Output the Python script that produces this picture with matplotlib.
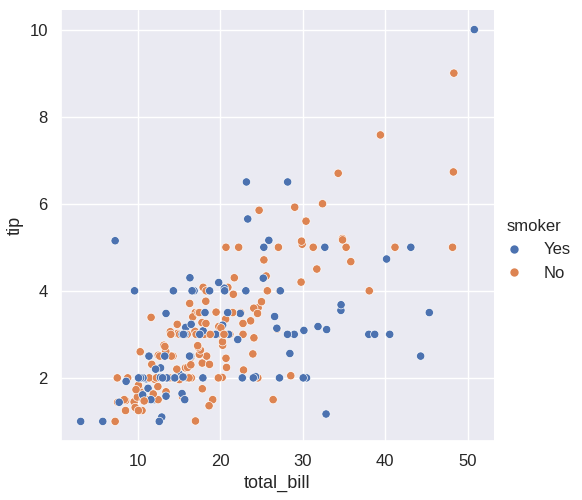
import pandas as pd
import seaborn as sns
import matplotlib.pyplot as plt

total_bill = [
    16.99, 10.34, 21.01, 23.68, 24.59, 25.29, 8.77, 26.88, 15.04, 14.78,
    10.27, 35.26, 15.42, 18.43, 14.83, 21.58, 10.33, 16.29, 16.97, 20.65,
    17.92, 20.29, 15.77, 39.42, 19.82, 17.81, 13.37, 12.69, 21.70, 19.65,
    9.55, 18.35, 15.06, 20.69, 17.78, 24.06, 16.31, 16.93, 18.69, 31.27,
    16.04, 17.46, 13.94, 9.68, 30.40, 18.29, 22.23, 32.40, 28.55, 18.04,
    12.54, 10.29, 34.81, 9.94, 25.56, 19.49, 38.01, 26.41, 11.24, 48.27,
    20.29, 13.81, 11.02, 18.29, 17.59, 20.08, 16.45, 3.07, 20.23, 15.01,
    12.02, 17.07, 26.86, 25.28, 14.73, 10.51, 17.92, 27.20, 22.76, 17.29,
    19.44, 16.66, 10.07, 32.68, 15.98, 34.83, 13.03, 18.28, 24.71, 21.16,
    28.97, 22.49, 5.75, 16.32, 22.75, 40.17, 27.28, 12.03, 21.01, 12.46,
    11.35, 15.38, 44.30, 22.42, 20.92, 15.36, 20.49, 25.21, 18.24, 14.31,
    14.00, 7.25, 38.07, 23.95, 25.71, 17.31, 29.93, 10.65, 12.43, 24.08,
    11.69, 13.42, 14.26, 15.95, 12.48, 29.80, 8.52, 14.52, 11.38, 22.82,
    19.08, 20.27, 11.17, 12.26, 18.26, 8.51, 10.33, 14.15, 16.00, 13.16,
    17.47, 34.30, 41.19, 27.05, 16.43, 8.35, 18.64, 11.87, 9.78, 7.51,
    14.07, 13.13, 17.26, 24.55, 19.77, 29.85, 48.17, 25.00, 13.39, 16.49,
    21.50, 12.66, 16.21, 13.81, 17.51, 24.52, 20.76, 31.71, 10.59, 10.63,
    50.81, 15.81, 7.25, 31.85, 16.82, 32.90, 17.89, 14.48, 9.60, 34.63,
    34.65, 23.33, 45.35, 23.17, 40.55, 20.69, 20.90, 30.46, 18.15, 23.10,
    15.69, 19.81, 28.44, 15.48, 16.58, 7.56, 10.34, 43.11, 13.00, 13.51,
    18.71, 12.74, 13.00, 16.40, 20.53, 16.47, 26.59, 38.73, 24.27, 12.76,
    30.06, 25.89, 48.33, 13.27, 28.17, 12.90, 28.15, 11.59, 7.74, 30.14,
    12.16, 13.42, 8.58, 15.98, 13.42, 16.27, 10.09, 20.45, 13.28, 22.12,
    24.01, 15.69, 11.61, 10.77, 15.53, 10.07, 12.60, 32.83, 35.83, 29.03,
    27.18, 22.67, 17.82, 18.78,
]

tip = [
    1.01, 1.66, 3.50, 3.31, 3.61, 4.71, 2.00, 3.12, 1.96, 3.23,
    1.71, 5.00, 1.57, 3.00, 3.02, 3.92, 1.67, 3.71, 3.50, 3.35,
    4.08, 2.75, 2.23, 7.58, 3.18, 2.34, 2.00, 2.00, 4.30, 3.00,
    1.45, 2.50, 3.00, 2.45, 3.27, 3.60, 2.00, 3.07, 2.31, 5.00,
    2.24, 2.54, 3.06, 1.32, 5.60, 3.00, 5.00, 6.00, 2.05, 3.00,
    2.50, 2.60, 5.20, 1.56, 4.34, 3.51, 3.00, 1.50, 1.76, 6.73,
    3.21, 2.00, 1.98, 3.76, 2.64, 3.15, 2.47, 1.00, 2.01, 2.09,
    1.97, 3.00, 3.14, 5.00, 2.20, 1.25, 3.08, 4.00, 3.00, 2.71,
    3.00, 3.40, 1.83, 5.00, 2.03, 5.17, 2.00, 4.00, 5.85, 3.00,
    3.00, 3.50, 1.00, 4.30, 3.25, 4.73, 4.00, 1.50, 3.00, 1.50,
    2.50, 3.00, 2.50, 3.48, 4.08, 1.64, 4.06, 4.29, 3.76, 4.00,
    3.00, 1.00, 4.00, 2.55, 4.00, 3.50, 5.07, 1.50, 1.80, 2.92,
    2.31, 1.68, 2.50, 2.00, 2.52, 4.20, 1.48, 2.00, 2.00, 2.18,
    1.50, 2.83, 1.50, 2.00, 3.25, 1.25, 2.00, 2.00, 2.00, 2.75,
    3.50, 6.70, 5.00, 5.00, 2.30, 1.50, 1.36, 1.63, 1.73, 2.00,
    2.50, 2.00, 2.74, 2.00, 2.00, 5.14, 5.00, 3.75, 2.61, 2.00,
    3.50, 2.50, 2.00, 2.00, 3.00, 3.48, 2.24, 4.50, 1.61, 2.00,
    10.00, 3.16, 5.15, 3.18, 4.00, 3.11, 2.00, 2.00, 4.00, 3.55,
    3.68, 5.65, 3.50, 6.50, 3.00, 5.00, 3.50, 2.00, 3.50, 4.00,
    1.50, 4.19, 2.56, 2.02, 4.00, 1.44, 2.00, 5.00, 2.00, 2.00,
    4.00, 2.01, 2.00, 2.50, 4.00, 3.23, 3.41, 3.00, 2.03, 2.23,
    2.00, 5.16, 9.00, 2.50, 6.50, 1.10, 3.00, 1.50, 1.44, 3.09,
    2.20, 3.48, 1.92, 3.00, 1.58, 2.50, 2.00, 3.00, 2.72, 2.88,
    2.00, 3.00, 3.39, 1.47, 3.00, 1.25, 1.00, 1.17, 4.67, 5.92,
    2.00, 2.00, 1.75, 3.00,
]

# Y = smoker, N = non-smoker, one letter per row
smoker_codes = (
    "NNNNNNNNNN" "NNNNNNNNNN" "NNNNNNNNNN" "NNNNNNNNNN" "NNNNNNNNNN"
    "NNNNNNYNYN" "YYYYNNNYNY" "NNYYNNYNNN" "YNNYNNNNNN" "YNYYNYYYYN"
    "YYYYNYYYNY" "NNNNNNNNNN" "NNNNNNNNNN" "NNNNNNNNYN" "NNNNNNNNNN"
    "NNNNNNNNNN" "NNNNYNNNYY" "YYYYYYYYYY" "YYYYYNYYYY" "YYYYYNYYYY"
    "YYYYYYYYYY" "YYNYYYYYYY" "YYYNYYYNNY" "YYNNYNYYNN" "YYNN"
)
smoker = ["Yes" if c == "Y" else "No" for c in smoker_codes]

tips = pd.DataFrame({"total_bill": total_bill, "tip": tip, "smoker": smoker})

sns.set_theme(rc={"xtick.labelsize": 12, "ytick.labelsize": 12,
                  "axes.labelsize": 13, "legend.fontsize": 12,
                  "legend.title_fontsize": 12})
plt.rcParams["font.family"] = ["Liberation Sans", "DejaVu Sans"]

g = sns.relplot(data=tips, x="total_bill", y="tip", hue="smoker",
                hue_order=["Yes", "No"], height=5)
g.figure.set_size_inches(5.82, 5)
g.figure.subplots_adjust(left=61/582, right=494/582, top=1-10/500, bottom=1-441/500)
g._legend.set_bbox_to_anchor((1 + 4/582, 0.5), transform=g.figure.transFigure)
g.figure.savefig("out.png", dpi=100)
